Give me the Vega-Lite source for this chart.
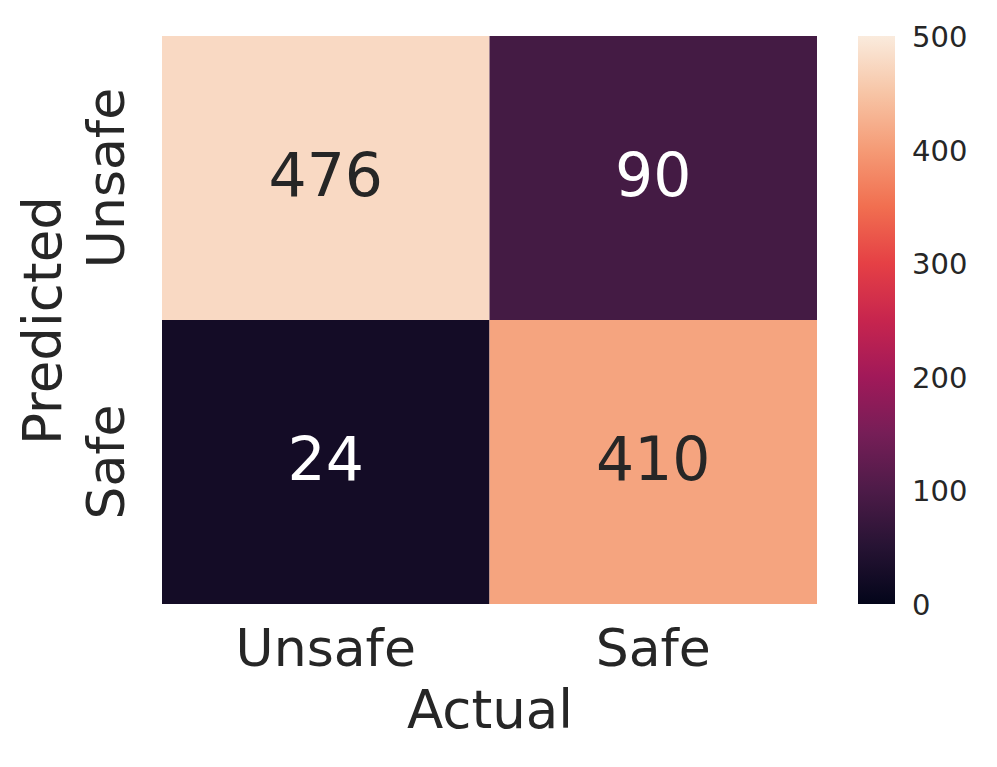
{
  "$schema": "https://vega.github.io/schema/vega-lite/v6.json",
  "autosize": {"type": "none"},
  "padding": {"left": 162, "top": 36, "right": 180, "bottom": 163},
  "width": 655,
  "height": 568,
  "background": "white",
  "config": {
    "font": "DejaVu Sans",
    "view": {"stroke": null},
    "axis": {
      "domain": false,
      "ticks": false,
      "grid": false,
      "labelLimit": 0,
      "labelFont": "DejaVu Sans",
      "titleFont": "DejaVu Sans",
      "labelFontSize": 52,
      "titleFontSize": 53,
      "titleFontWeight": "normal",
      "labelColor": "#262626",
      "titleColor": "#262626"
    },
    "legend": {
      "labelFont": "DejaVu Sans",
      "labelFontSize": 29,
      "labelColor": "#262626"
    }
  },
  "data": {
    "values": [
      {"Actual": "Unsafe", "Predicted": "Unsafe", "count": 476},
      {"Actual": "Safe", "Predicted": "Unsafe", "count": 90},
      {"Actual": "Unsafe", "Predicted": "Safe", "count": 24},
      {"Actual": "Safe", "Predicted": "Safe", "count": 410}
    ]
  },
  "encoding": {
    "x": {
      "field": "Actual",
      "type": "nominal",
      "sort": ["Unsafe", "Safe"],
      "scale": {"paddingInner": 0, "paddingOuter": 0},
      "axis": {"labelAngle": 0, "labelPadding": 20, "titlePadding": 10}
    },
    "y": {
      "field": "Predicted",
      "type": "nominal",
      "sort": ["Unsafe", "Safe"],
      "scale": {"paddingInner": 0, "paddingOuter": 0},
      "axis": {"labelAngle": -90, "labelAlign": "center", "labelBaseline": "bottom", "labelPadding": 28, "titlePadding": 10}
    }
  },
  "layer": [
    {
      "mark": {"type": "rect"},
      "encoding": {
        "color": {
          "field": "count",
          "type": "quantitative",
          "scale": {
            "domain": [0, 71.43, 142.86, 214.29, 285.71, 357.14, 428.57, 500],
            "range": ["#03051A", "#35193e", "#701f57", "#ad1759", "#e13342", "#f37651", "#f6b48f", "#FAEBDD"],
            "interpolate": "rgb"
          },
          "legend": {
            "title": null,
            "orient": "right",
            "offset": 41,
            "padding": 0,
            "gradientLength": 568,
            "gradientThickness": 37,
            "gradientStrokeWidth": 0,
            "values": [0, 100, 200, 300, 400, 500],
            "labelOffset": 17,
            "labelBaseline": "middle",
            "labelOverlap": false,
            "direction": "vertical",
            "encode": {"labels": {"update": {"baseline": {"value": "middle"}, "dy": {"value": 2}}}}
          }
        }
      }
    },
    {
      "mark": {"type": "text", "fontSize": 60, "font": "DejaVu Sans", "baseline": "middle"},
      "encoding": {
        "text": {"field": "count", "type": "quantitative"},
        "color": {
          "condition": {"test": "datum.count > 250", "value": "#262626"},
          "value": "white"
        }
      }
    }
  ]
}
